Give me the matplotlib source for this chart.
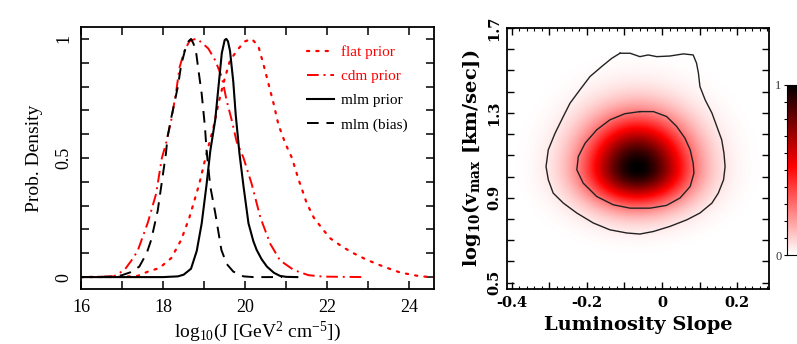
import numpy as np
import matplotlib
matplotlib.use("Agg")
import matplotlib.pyplot as plt
from matplotlib.ticker import MultipleLocator, FuncFormatter
from matplotlib.colors import LinearSegmentedColormap

plt.rcParams['font.family'] = 'Liberation Serif'
plt.rcParams['mathtext.default'] = 'regular'

# --- left panel: posterior of log10 J for the four priors ---
flat_x = [16.0, 17.0, 17.38, 17.63, 17.91, 18.2, 18.44, 18.64, 18.88, 19.06, 19.23, 19.35,
          19.48, 19.63, 19.84, 20.0, 20.16, 20.32, 20.45, 20.57, 20.69, 20.81, 20.98, 21.14,
          21.3, 21.5, 21.67, 21.87, 22.07, 22.36, 22.64, 22.97, 23.37, 23.78, 24.27, 24.6]
flat_y = [0.0, 0.001, 0.005, 0.023, 0.038, 0.08, 0.156, 0.25, 0.39, 0.52, 0.63, 0.73,
          0.82, 0.91, 0.96, 0.99, 1.0, 0.97, 0.89, 0.81, 0.73, 0.64, 0.56, 0.50,
          0.41, 0.31, 0.25, 0.205, 0.163, 0.128, 0.10, 0.072, 0.044, 0.019, 0.003, 0.0]

cdm_x = [16.0, 16.8, 17.06, 17.23, 17.38, 17.63, 17.83, 17.97, 18.07, 18.2, 18.32, 18.4,
         18.52, 18.64, 18.75, 18.84, 18.9, 19.1, 19.27, 19.43, 19.55, 19.67, 19.79, 19.96,
         20.16, 20.37, 20.61, 20.85, 21.18, 21.54, 21.9, 22.9]
cdm_y = [0.0, 0.003, 0.03, 0.07, 0.11, 0.23, 0.35, 0.50, 0.56, 0.66, 0.78, 0.88,
         0.95, 0.99, 0.998, 1.0, 0.99, 0.96, 0.91, 0.84, 0.74, 0.66, 0.57, 0.50,
         0.39, 0.25, 0.14, 0.07, 0.03, 0.008, 0.002, 0.0]

mlm_x = [16.0, 18.0, 18.36, 18.5, 18.68, 18.82, 18.94, 19.06, 19.15, 19.27, 19.35, 19.43,
         19.5, 19.54, 19.58, 19.63, 19.71, 19.77, 19.86, 19.96, 20.08, 20.2, 20.28, 20.4,
         20.53, 20.7, 20.85, 21.0, 21.27]
mlm_y = [0.0, 0.0, 0.003, 0.01, 0.035, 0.11, 0.225, 0.39, 0.53, 0.66, 0.80, 0.94,
         0.995, 1.0, 0.99, 0.95, 0.82, 0.68, 0.52, 0.38, 0.226, 0.15, 0.114, 0.075,
         0.044, 0.018, 0.005, 0.001, 0.0]

bias_x = [16.0, 16.8, 17.0, 17.2, 17.42, 17.6, 17.71, 17.87, 18.07, 18.11, 18.2, 18.36,
          18.44, 18.56, 18.62, 18.68, 18.74, 18.8, 18.86, 18.94, 19.02, 19.06, 19.15, 19.27,
          19.42, 19.55, 19.71, 19.96, 20.2, 20.9]
bias_y = [0.0, 0.002, 0.008, 0.02, 0.044, 0.10, 0.156, 0.28, 0.52, 0.59, 0.67, 0.80,
          0.89, 0.97, 0.99, 1.0, 0.98, 0.95, 0.87, 0.77, 0.63, 0.53, 0.38, 0.27,
          0.114, 0.055, 0.023, 0.003, 0.0, 0.0]

# --- right panel: 2D posterior (peak position and spread) and its contours ---
peak_slope, peak_logv = -0.067, 1.04
sig_slope = 0.097
sig_logv_up, sig_logv_down = 0.165, 0.12

inner_x = [-0.059, -0.023, 0.012, 0.039, 0.061, 0.075, 0.083, 0.085, 0.075, 0.048, 0.012,
           -0.032, -0.085, -0.13, -0.174, -0.21, -0.227, -0.223, -0.205, -0.174, -0.139,
           -0.099, -0.059]
inner_y = [1.306, 1.306, 1.283, 1.236, 1.181, 1.126, 1.063, 1.016, 0.953, 0.899, 0.864,
           0.851, 0.851, 0.867, 0.906, 0.969, 1.032, 1.094, 1.157, 1.22, 1.267, 1.296, 1.306]

outer_x = [-0.112, -0.085, -0.059, -0.037, -0.014, 0.021, 0.057, 0.083, 0.092, 0.097, 0.101,
           0.115, 0.133, 0.146, 0.159, 0.165, 0.168, 0.164, 0.150, 0.133, 0.101, 0.066,
           0.021, -0.023, -0.059, -0.094, -0.139, -0.183, -0.227, -0.263, -0.29, -0.303,
           -0.309, -0.303, -0.285, -0.263, -0.245, -0.219, -0.192, -0.161, -0.134, -0.112]
outer_y = [1.581, 1.581, 1.565, 1.573, 1.565, 1.568, 1.578, 1.573, 1.534, 1.487, 1.424,
           1.361, 1.299, 1.236, 1.173, 1.110, 1.047, 0.985, 0.922, 0.875, 0.828, 0.796,
           0.765, 0.741, 0.729, 0.734, 0.749, 0.781, 0.828, 0.875, 0.922, 0.985,
           1.047, 1.126, 1.204, 1.283, 1.346, 1.408, 1.471, 1.518, 1.557, 1.581]

fig = plt.figure(figsize=(7.97, 3.44), dpi=100)

# ---------------- left ----------------
ax1 = fig.add_axes([81 / 797, 55 / 344, 353 / 797, 262 / 344])
ax1.plot(flat_x, flat_y, color='red', ls=(0, (1, 3.2)), lw=1.6, dash_capstyle='round',
         label='flat prior')
ax1.plot(cdm_x, cdm_y, color='red', ls=(0, (6, 2.5, 1, 2.5)), lw=1.4, label='cdm prior')
ax1.plot(mlm_x, mlm_y, color='black', ls='-', lw=1.5, label='mlm prior')
ax1.plot(bias_x, bias_y, color='black', ls=(0, (6, 4)), lw=1.4, label='mlm (bias)')

ax1.set_xlim(16, 24.6)
ax1.set_ylim(-0.05, 1.05)
ax1.xaxis.set_major_locator(MultipleLocator(2))
ax1.xaxis.set_minor_locator(MultipleLocator(1))
ax1.yaxis.set_major_locator(MultipleLocator(0.5))
ax1.yaxis.set_minor_locator(MultipleLocator(0.1))
ax1.yaxis.set_major_formatter(FuncFormatter(lambda v, p: '%g' % v))
ax1.tick_params(which='both', direction='in', top=True, right=True, length=6, width=1.1)
ax1.tick_params(axis='x', labelsize=13, pad=7)
ax1.tick_params(axis='y', labelsize=13, pad=6, labelrotation=90)
for t in ax1.get_yticklabels():
    t.set_va('center')
for s in ax1.spines.values():
    s.set_linewidth(1.3)
ax1.set_xlabel(r'log$_{10}$(J [GeV$^{2}$ cm$^{-5}$])', fontsize=14, labelpad=3)
ax1.set_ylabel('Prob. Density', fontsize=14, labelpad=9)

leg = ax1.legend(loc='upper right', bbox_to_anchor=(0.95, 0.965), frameon=False,
                 fontsize=11, handlelength=1.8, handletextpad=0.4, labelspacing=0.68,
                 labelcolor='linecolor', borderaxespad=0.2)

# ---------------- right ----------------
ax2 = fig.add_axes([507 / 797, 55 / 344, 262 / 797, 261 / 344])
xlim2 = (-0.413, 0.285)
ylim2 = (0.47, 1.70)
gx = np.linspace(xlim2[0], xlim2[1], 300)
gy = np.linspace(ylim2[0], ylim2[1], 300)
X, Y = np.meshgrid(gx, gy)
sy = np.where(Y > peak_logv, sig_logv_up, sig_logv_down)
dens = np.exp(-0.5 * (((X - peak_slope) / sig_slope) ** 2 + ((Y - peak_logv) / sy) ** 2))

cmap = LinearSegmentedColormap.from_list('wrk', [(0, 'white'), (0.52, 'red'), (1, 'black')])
im = ax2.imshow(dens, origin='lower', extent=[*xlim2, *ylim2], aspect='auto', cmap=cmap,
                vmin=0, vmax=1, interpolation='bilinear')
ax2.plot(outer_x, outer_y, color='#222222', lw=1.0)
ax2.plot(inner_x, inner_y, color='#222222', lw=1.0)
ax2.set_xlim(*xlim2)
ax2.set_ylim(*ylim2)

bold = dict(family='DejaVu Serif', weight='bold')
ax2.xaxis.set_major_locator(MultipleLocator(0.1))
ax2.xaxis.set_minor_locator(MultipleLocator(0.02))
ax2.yaxis.set_major_locator(MultipleLocator(0.1))


def xfmt(v, p):
    k = int(round(v * 10))
    if k % 2:
        return ''
    return '0' if k == 0 else '%.1f' % (k / 10)


def yfmt(v, p):
    k = int(round(v * 10))
    return '%.1f' % (k / 10) if (k - 5) % 4 == 0 else ''


ax2.xaxis.set_major_formatter(FuncFormatter(xfmt))
ax2.yaxis.set_major_formatter(FuncFormatter(yfmt))
ax2.tick_params(which='major', direction='in', top=True, right=True, length=5, width=1.0)
ax2.tick_params(which='minor', direction='in', top=True, right=True, length=2.5, width=0.8)
ax2.tick_params(axis='x', pad=5)
ax2.tick_params(axis='y', pad=4, labelrotation=90)
for t in ax2.get_xticklabels() + ax2.get_yticklabels():
    t.set_fontfamily('DejaVu Serif')
    t.set_fontweight('bold')
    t.set_fontsize(10.5)
for t in ax2.get_yticklabels():
    t.set_va('center')
for s in ax2.spines.values():
    s.set_linewidth(1.3)
ax2.set_xlabel('Luminosity Slope', fontsize=14, labelpad=4, **bold)
ax2.set_ylabel(r'log$_{10}$(v$_{max}$ [km/sec])', fontsize=14, labelpad=3, **bold)

# colour bar
cax = fig.add_axes([786.5 / 797, 89 / 344, 0.02, 170.5 / 344])
cb = fig.colorbar(im, cax=cax)
cb.outline.set_linewidth(0.8)
cb.set_ticks([0, 1])
cb.ax.yaxis.set_minor_locator(MultipleLocator(0.1))
cb.ax.yaxis.set_ticks_position('left')
cb.ax.tick_params(which='both', direction='out', length=2.5, width=0.8, pad=1,
                  labelsize=9, labelcolor='#333333')
cb.ax.set_yticklabels(['0', '1'])

fig.savefig('out.png', dpi=100)
